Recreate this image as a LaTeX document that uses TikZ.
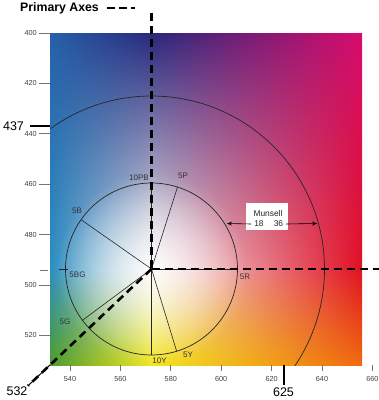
\documentclass[tikz,border=0pt]{standalone}
\usepackage{fontspec}
\setmainfont{Liberation Sans}
\usetikzlibrary{arrows.meta,fadings,calc,shadings}
\definecolor{cTL}{RGB}{40,96,168}
\definecolor{cTM}{RGB}{40,40,124}
\definecolor{cTR}{RGB}{216,12,110}
\definecolor{cML}{RGB}{44,142,194}
\definecolor{cC}{RGB}{246,244,242}
\definecolor{cMR}{RGB}{224,16,34}
\definecolor{cBL}{RGB}{76,156,44}
\definecolor{cBM}{RGB}{242,230,28}
\definecolor{cBR}{RGB}{240,106,16}
\tikzfading[name=glow, inner color=transparent!25, outer color=transparent!100]
\begin{document}
\begin{tikzpicture}[x=1pt,y=-1pt,
  tickmark/.style={draw=black!55, line width=0.8pt},
  ticklab/.style={font=\fontsize{7.3}{8}\selectfont, text=black!75, inner sep=0pt},
  axisdash/.style={line width=2.6pt, dash pattern=on 8pt off 5pt},
  spoke/.style={line width=0.6pt, draw=black!85},
  ring/.style={line width=0.7pt, draw=black!85},
  hue/.style={font=\fontsize{8}{9}\selectfont, text=black!80, inner sep=0pt},
  wl/.style={font=\fontsize{12.5}{14}\selectfont, inner sep=0pt},
  wlbar/.style={line width=1.8pt},
  mlab/.style={font=\fontsize{8.4}{9}\selectfont, text=black!85, inner sep=0pt}]
\useasboundingbox (0,0) rectangle (379,400);
% colour field
\shade[upper left=cTL, upper right=cTM, lower left=cML, lower right=cC] (50,33) rectangle (151.5,269);
\shade[upper left=cTM, upper right=cTR, lower left=cC, lower right=cMR] (151.5,33) rectangle (362,269);
\shade[upper left=cML, upper right=cC, lower left=cBL, lower right=cBM] (50,269) rectangle (151.5,365);
\shade[upper left=cC, upper right=cMR, lower left=cBM, lower right=cBR] (151.5,269) rectangle (362,365);
\fill[white, path fading=glow] (151.5,269) circle (95);
\coordinate (O) at (151.5,269);
% outer ring, clipped
\begin{scope}
\clip (50,33) rectangle (362,365);
\draw[ring] (O) circle (173);
\end{scope}
% inner ring and spokes
\draw[ring] (O) circle (86);
\coordinate (s5P) at ([shift={(-72.4:86)}]O);
\coordinate (s5B) at ([shift={(-145:86)}]O);
\coordinate (s5G) at ([shift={(143.4:86)}]O);
\coordinate (s10Y) at ([shift={(90:86)}]O);
\coordinate (s5Y) at ([shift={(73:86)}]O);
\coordinate (s10PB) at ([shift={(-90:86)}]O);
\coordinate (s5R) at ([shift={(0:86)}]O);
\foreach \s in {s5P,s5B,s5G,s10Y,s5Y,s10PB,s5R} \draw[spoke] (O) -- (\s);
\coordinate (t1) at (59,269);
\coordinate (t2) at (68,269);
\draw[spoke] (t1) -- (t2);
% hue labels
\node[hue] (l10PB) at (139,177.5) {10PB};
\node[hue] (l5P) at (183,176) {5P};
\node[hue] (l5B) at (77,211) {5B};
\node[hue] (l5BG) at (77.5,275) {5BG};
\node[hue] (l5G) at (65,322) {5G};
\node[hue] (l10Y) at (159.5,361) {10Y};
\node[hue] (l5Y) at (188,355) {5Y};
\node[hue] (l5R) at (245,277) {5R};
% Munsell box
\node[fill=white, minimum width=42pt, minimum height=27pt, inner sep=0pt] (mbox) at (267,216.5) {};
\node[mlab] (mun) at (268,213.5) {Munsell};
\node[mlab] (m18) at (259,224) {18};
\node[mlab] (m36) at (278.5,224) {36};
\coordinate (aL) at (227,223.5);
\coordinate (aR) at (317,223.5);
\draw[line width=0.6pt, -{Stealth[length=5pt,width=4pt,open]}] ([xshift=-3pt]m18.west) -- (aL);
\draw[line width=0.6pt, -{Stealth[length=5pt,width=4pt]}] ([xshift=2.5pt]m36.east) -- (aR);
% y axis ticks
\foreach \v/\yy in {400/33,420/83.4,440/133.8,460/184.2,480/234.6,500/285,520/335.4}{
  \draw[tickmark] (38.5,\yy) -- (50,\yy);
  \node[ticklab, anchor=east] (y\v) at (37,\yy) {\v};
}
\coordinate (g1) at (40,270);
\coordinate (g2) at (48,270);
\draw[tickmark] (g1) -- (g2);
% x axis ticks
\foreach \v/\xx in {540/70,560/120.4,580/170.8,600/221.2,620/271.6,640/322,660/372.4}{
  \draw[tickmark] (\xx,365) -- (\xx,370.5);
  \node[ticklab] (x\v) at (\xx,378.5) {\v};
}
% primary axes
\coordinate (vtop) at (151.5,13);
\coordinate (hend) at (381,269);
\coordinate (corner) at (50,365);
\coordinate (dend) at (28,385.8);
\draw[axisdash] (vtop) -- (O);
\draw[axisdash] (O) -- (hend);
\draw[line width=1pt] (corner) -- (dend);
\draw[axisdash] (O) -- (dend);
% legend
\node[font=\bfseries\fontsize{12.3}{14}\selectfont, inner sep=0pt] (pa) at (59.5,8) {Primary Axes};
\coordinate (lg1) at (107,8);
\coordinate (lg2) at (135,8);
\draw[line width=2.4pt, dash pattern=on 8pt off 4pt] (lg1) -- (lg2);
% wavelength markers
\coordinate (b437a) at (30,126);
\coordinate (b437b) at (50,126);
\draw[wlbar] (b437a) -- (b437b);
\node[wl] (w437) at (13.5,126) {437};
\coordinate (b625a) at (284.3,365);
\coordinate (b625b) at (284.3,385);
\draw[wlbar] (b625a) -- (b625b);
\node[wl] (w625) at (283.5,392) {625};
\node[wl] (w532) at (17,391) {532};
\end{tikzpicture}
\end{document}
